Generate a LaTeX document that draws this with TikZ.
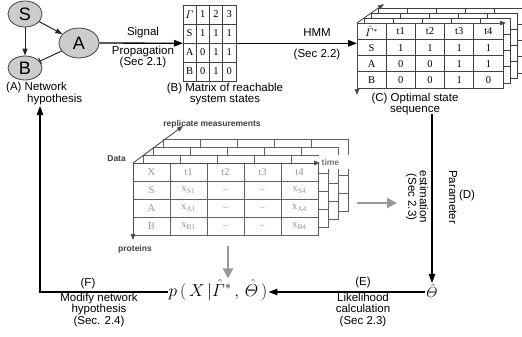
\documentclass[tikz,border=0pt]{standalone}
\usepackage{amsmath}
\usepackage{fontspec}
\setmainfont{Liberation Serif}
\setsansfont{Liberation Sans}
\usetikzlibrary{arrows.meta,shapes.geometric}
\newcommand\dd{..}
\newcommand\xs[1]{$\mathrm{x}_{\mathrm{#1}}$}
\tikzset{
  lab/.style={font=\sffamily\fontsize{11.5}{11.5}\selectfont, align=center, inner sep=0pt},
  tiny/.style={font=\sffamily\bfseries\fontsize{8.5}{9}\selectfont, text=black!75, inner sep=0pt},
  prot/.style={ellipse, draw=black!75, fill=black!20, line width=0.8pt,
    font=\sffamily\fontsize{18}{18}\selectfont, inner sep=0pt},
  arr/.style={-{Triangle[length=9pt,width=6.5pt]}, line width=1.3pt},
  narr/.style={-{Triangle[length=7pt,width=5pt]}, line width=1pt, draw=black!85},
  garr/.style={-{Triangle[length=10pt,width=10pt]}, line width=2.5pt, draw=black!40},
  axarr/.style={-{Triangle[length=6pt,width=4.5pt]}, line width=0.9pt, draw=black!70},
  cell/.style={font=\fontsize{10.5}{10.5}\selectfont, inner sep=0pt},
  gcell/.style={font=\fontsize{10.5}{10.5}\selectfont, inner sep=0pt, text=black!40},
  gridB/.style={draw=black!75, line width=0.6pt},
  gridC/.style={draw=black!75, line width=0.7pt},
  gridD/.style={draw=black!62, line width=0.9pt},
}
\begin{document}
\begin{tikzpicture}[x=1pt,y=-1pt]
\useasboundingbox (0,0) rectangle (522,337);

% ---------------- (A) network
\node[prot, minimum width=34pt, minimum height=26pt] (S) at (25,14) {S};
\node[prot, minimum width=40pt, minimum height=30pt] (A) at (79,43) {A};
\node[prot, minimum width=34pt, minimum height=24pt] (B) at (25,68) {B};
\draw[narr] (S) -- (A);
\draw[narr] (S) -- (B);
\draw[-{Bar[width=7pt]}, line width=1pt, draw=black!85] (A) -- (B);
\node[lab, align=left, anchor=north west] (netlab) at (6,82) {(A) Network\\\hspace*{21pt}hypothesis};

% ---------------- (B) matrix
\node[draw=black!75, line width=0.6pt, minimum width=53pt, minimum height=76pt,
      inner sep=0pt, anchor=north west] (matB) at (183,5) {};
\foreach \c in {1,2,3} \draw[gridB] ({183+13.25*\c},5) -- ({183+13.25*\c},81);
\foreach \r in {1,2,3} \draw[gridB] (183,{5+19*\r}) -- (236,{5+19*\r});
\foreach \row [count=\r from 0] in {{$\varGamma$,1,2,3},{S,1,1,1},{A,0,1,1},{B,0,1,0}}{
  \foreach \t [count=\c from 0] in \row
    \node[cell] (b-\r-\c) at ({189.6+13.25*\c},{14.5+19*\r}) {\t};
}
\node[lab] (capB) at (225,94) {(B) Matrix of reachable\\system states};

\draw[arr] (A) -- (matB);
\node[lab] (sig) at (143,33) {Signal};
\node[lab] (prop) at (143,57) {Propagation\\(Sec 2.1)};

% ---------------- (C) optimal state sequence
\foreach \k in {3,2,1}{
  \begin{scope}[shift={(7*\k,-5*\k)}]
    \filldraw[fill=white, gridC] (357,23) rectangle (503,88);
    \foreach \c in {1,...,4} \draw[gridC] ({357+29.2*\c},23) -- ({357+29.2*\c},88);
    \foreach \r in {1,2,3} \draw[gridC] (357,{23+16.25*\r}) -- (503,{23+16.25*\r});
  \end{scope}
}
\node[draw=black!75, fill=white, line width=0.7pt, minimum width=146pt, minimum height=65pt,
      inner sep=0pt, anchor=north west] (matC) at (357,23) {};
\foreach \c in {1,...,4} \draw[gridC] ({357+29.2*\c},23) -- ({357+29.2*\c},88);
\foreach \r in {1,2,3} \draw[gridC] (357,{23+16.25*\r}) -- (503,{23+16.25*\r});
\foreach \row [count=\r from 0] in {{$\hat{\varGamma}^{*}$,t1,t2,t3,t4},{S,1,1,1,1},{A,0,0,1,1},{B,0,0,1,0}}{
  \foreach \t [count=\c from 0] in \row
    \node[cell] (c-\r-\c) at ({371.6+29.2*\c},{31.5+16.25*\r}) {\t};
}
\coordinate (cTR) at (506,23);
\coordinate (cBL) at (357,95);
\coordinate (cDG) at (384,4);
\draw[axarr] (matC.north west) -- (cTR);
\draw[axarr] (matC.north west) -- (cBL);
\draw[axarr] (matC.north west) -- (cDG);
\node[lab] (capC) at (415,104) {(C) Optimal state\\sequence};

\draw[arr] (matB.east) -- (matB.east -| matC.west);
\node[lab] (hmm) at (317,33) {HMM};
\node[lab] (sec22) at (317,55) {(Sec 2.2)};

% ---------------- data
\foreach \k in {3,2,1}{
  \begin{scope}[shift={(10*\k,-8*\k)}]
    \filldraw[fill=white, gridD] (133,163) rectangle (318,235);
    \foreach \c in {1,...,4} \draw[gridD] ({133+37*\c},163) -- ({133+37*\c},235);
    \foreach \r in {1,2,3} \draw[gridD] (133,{163+18*\r}) -- (318,{163+18*\r});
  \end{scope}
}
\node[draw=black!62, fill=white, line width=0.9pt, minimum width=185pt, minimum height=72pt,
      inner sep=0pt, anchor=north west] (data) at (133,163) {};
\foreach \c in {1,...,4} \draw[gridD] ({133+37*\c},163) -- ({133+37*\c},235);
\foreach \r in {1,2,3} \draw[gridD] (133,{163+18*\r}) -- (318,{163+18*\r});
\foreach \row [count=\r from 0] in {{X,t1,t2,t3,t4},{S,\xs{S1},\dd,\dd,\xs{S4}},{A,\xs{A1},\dd,\dd,\xs{A4}},{B,\xs{B1},\dd,\dd,\xs{B4}}}{
  \foreach \t [count=\c from 0] in \row
    \node[gcell] (d-\r-\c) at ({151.5+37*\c},{172+18*\r}) {\t};
}
\node[tiny, text=black!55, anchor=west, fill=white, text width=52pt, inner sep=2.5pt, minimum height=14pt] (time) at (319,162) {time};
\coordinate (dTR) at (320,163);
\coordinate (dBL) at (133,240);
\coordinate (dDG) at (183,126);
\draw[axarr] (data.north west) -- (dTR);
\draw[axarr] (data.north west) -- (dBL);
\draw[axarr] (data.north west) -- (dDG);
\node[tiny, anchor=east] (datalab) at (126,159) {Data};
\node[tiny] (repl) at (212,124) {replicate measurements};
\node[tiny] (prot) at (135,249) {proteins};

% ---------------- bottom
\node[inner sep=1pt, font=\fontsize{17.5}{17.5}\selectfont] (pform) at (218,290)
  {$p\,(\,X\,|\hat{\varGamma}^{*}\,,\,\hat{\varTheta}\,)$};
\node[inner sep=1pt, font=\fontsize{15}{15}\selectfont] (theta) at (432,291) {$\hat{\varTheta}$};

\coordinate (gA) at (228,246);
\draw[garr] (gA) -- (gA |- pform.north);
\coordinate (gB1) at (357,203);
\coordinate (gB2) at (397,203);
\draw[garr] (gB1) -- (gB2);

\coordinate (dtop) at (432,114);
\draw[arr] (dtop) -- (theta.north);
\node[lab, rotate=-90] (param) at (453,197) {Parameter};
\node[lab, rotate=-90] (estim) at (417,197) {estimation\\(Sec 2.3)};
\node[lab] (dlab) at (467,196) {(D)};

\draw[arr] (theta.west |- 0,292) -- (pform.east |- 0,292);
\node[lab] (elab) at (363,283) {(E)};
\node[lab] (likel) at (363,310) {Likelihood\\calculation\\(Sec 2.3)};

\coordinate (fcorner) at (40,292);
\draw[arr] (pform.west |- fcorner) -- (fcorner) -- (40,106);
\node[lab] (flab) at (88,284) {(F)};
\node[lab] (modif) at (99,310) {Modify network\\hypothesis\\(Sec. 2.4)};
\end{tikzpicture}
\end{document}
